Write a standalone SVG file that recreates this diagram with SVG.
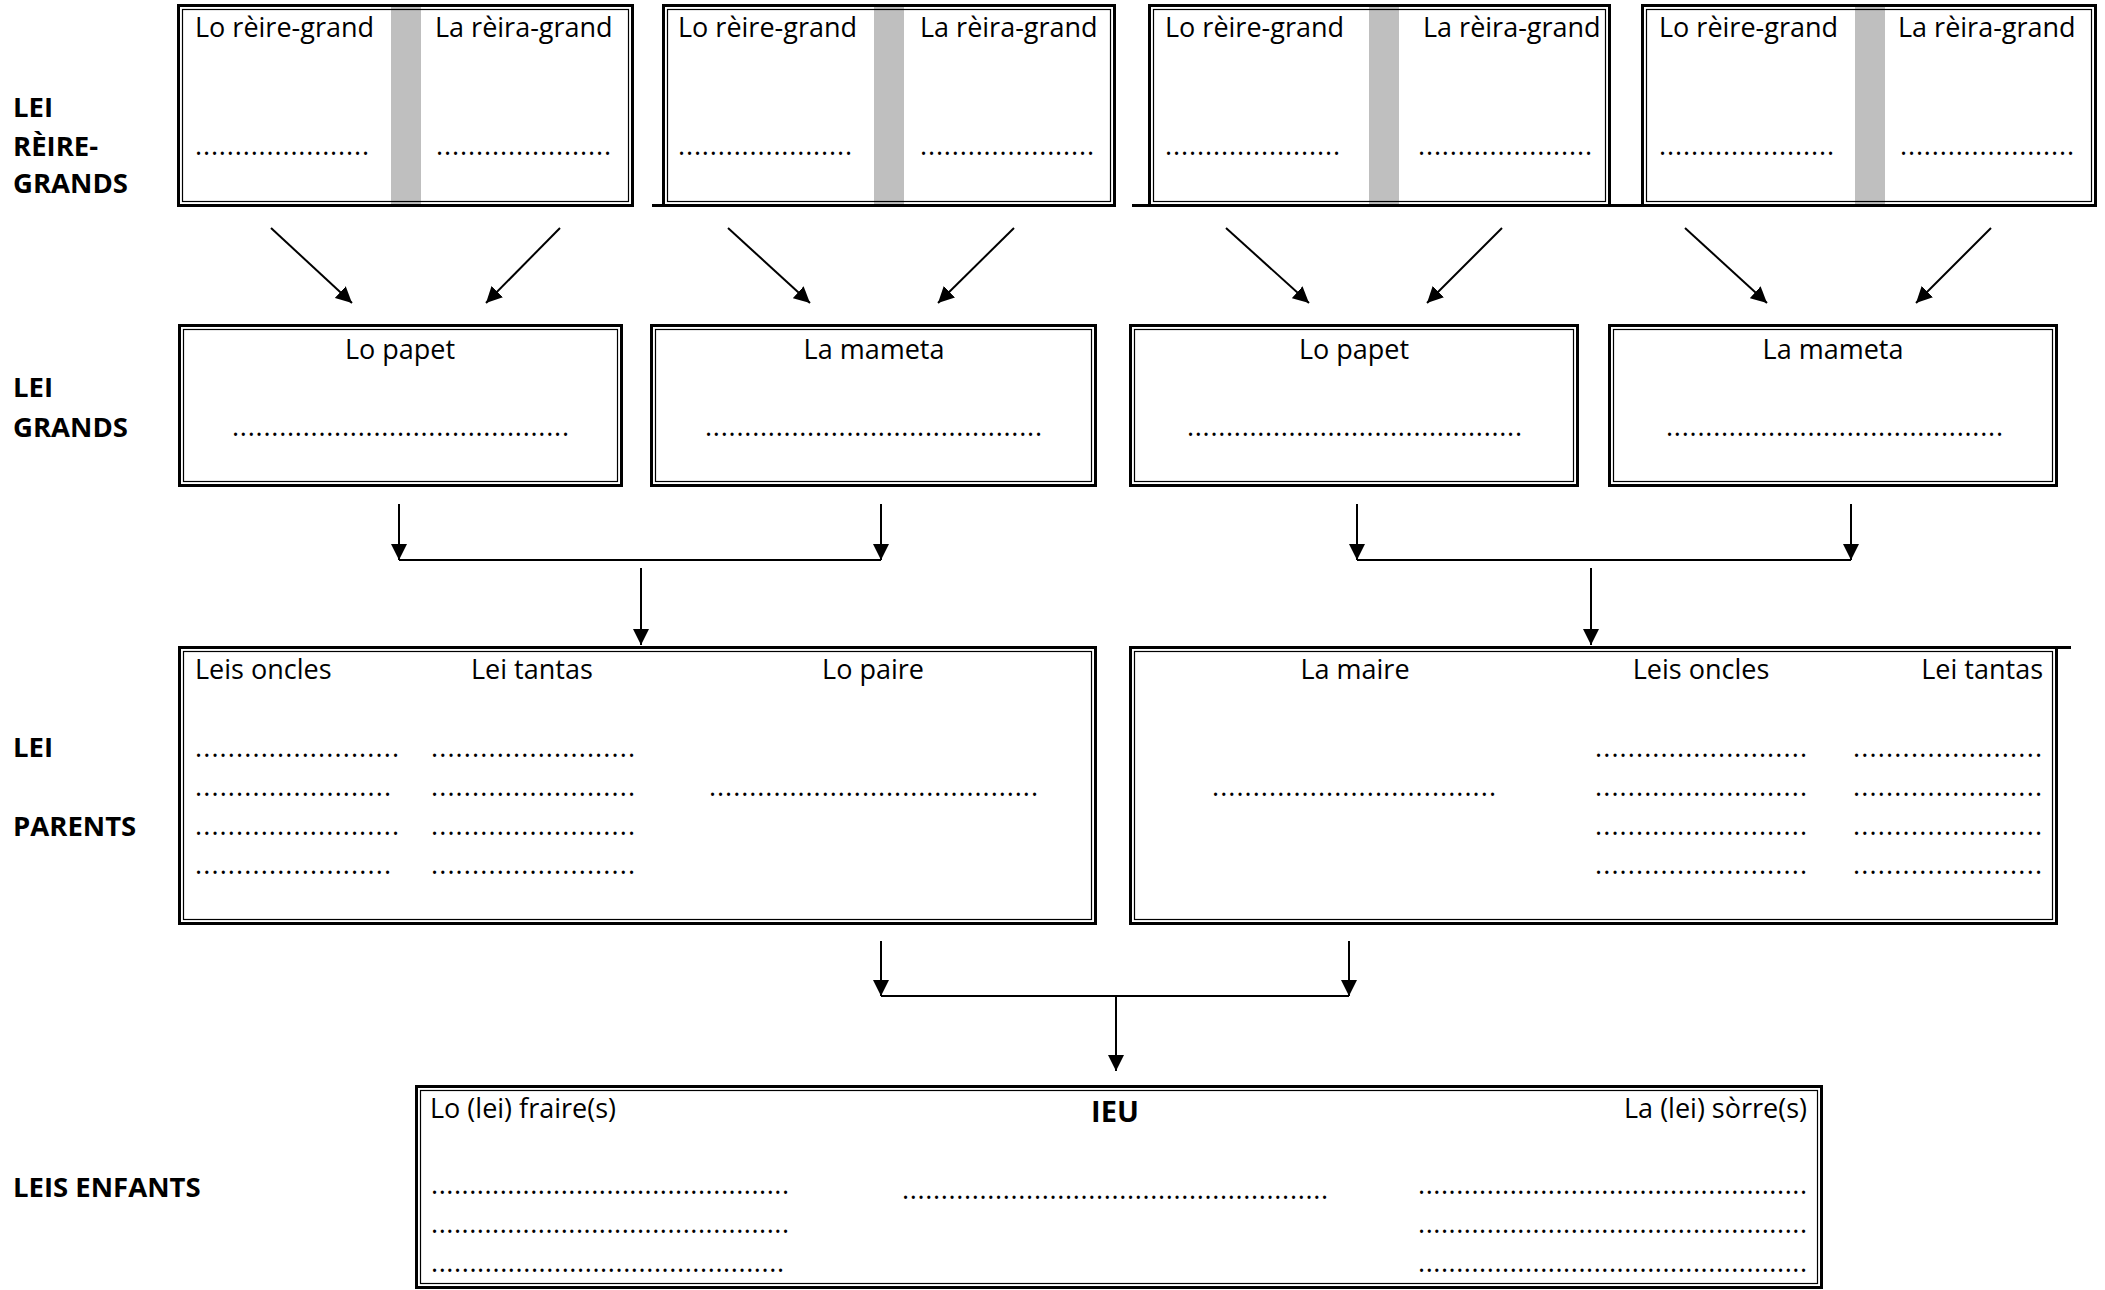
<svg xmlns="http://www.w3.org/2000/svg" width="2105" height="1290" viewBox="0 0 2105 1290">
<defs>
<marker id="ah" viewBox="0 0 16 16" refX="16" refY="8" markerWidth="16" markerHeight="16" markerUnits="userSpaceOnUse" orient="auto">
<path d="M0,0 L16,8 L0,16 z" fill="#000"/>
</marker>
</defs>
<style>
.t{font-family:"Open Sans","Liberation Sans",sans-serif;font-size:27px;fill:#000}
.b{font-family:"Open Sans","Liberation Sans",sans-serif;font-size:27.5px;font-weight:bold;fill:#000}
.d{font-family:"Open Sans","Liberation Sans",sans-serif;font-size:27px;fill:#000}
.o{fill:none;stroke:#000;stroke-width:3}
.i{fill:none;stroke:#000;stroke-width:1.2}
.g{fill:#bfbfbf}
.c{fill:none;stroke:#000;stroke-width:2}
.x{stroke:#000;stroke-width:3}
</style>
<rect width="2105" height="1290" fill="#fff"/>

<g id="labels">
<text class="b" x="13" y="117">LEI</text>
<text class="b" x="13" y="156">RÈIRE-</text>
<text class="b" x="13" y="193">GRANDS</text>
<text class="b" x="13" y="397">LEI</text>
<text class="b" x="13" y="437">GRANDS</text>
<text class="b" x="13" y="757">LEI</text>
<text class="b" x="13" y="836">PARENTS</text>
<text class="b" x="13" y="1197">LEIS ENFANTS</text>
</g>

<g id="reire-1">
<rect class="g" x="391" y="6" width="30" height="199"/>
<rect class="o" x="178.5" y="5.5" width="454" height="200"/>
<rect class="i" x="182.5" y="9.5" width="446" height="192"/>
<text class="t" x="195" y="37">Lo rèire-grand</text>
<text class="t" x="435" y="37">La rèira-grand</text>
<text class="d" x="195" y="155" textLength="174" lengthAdjust="spacing">......................</text>
<text class="d" x="436" y="155" textLength="175" lengthAdjust="spacing">......................</text>
</g>

<g id="reire-2">
<rect class="g" x="874" y="6" width="30" height="199"/>
<line class="x" x1="652" y1="205.5" x2="663" y2="205.5"/>
<rect class="o" x="663.5" y="5.5" width="451" height="200"/>
<rect class="i" x="667.5" y="9.5" width="443" height="192"/>
<text class="t" x="678" y="37">Lo rèire-grand</text>
<text class="t" x="920" y="37">La rèira-grand</text>
<text class="d" x="678" y="155" textLength="174" lengthAdjust="spacing">......................</text>
<text class="d" x="920" y="155" textLength="174" lengthAdjust="spacing">......................</text>
</g>

<g id="reire-3">
<rect class="g" x="1369" y="6" width="30" height="199"/>
<line class="x" x1="1132" y1="205.5" x2="1149" y2="205.5"/>
<rect class="o" x="1149.5" y="5.5" width="460" height="200"/>
<rect class="i" x="1153.5" y="9.5" width="452" height="192"/>
<text class="t" x="1165" y="37">Lo rèire-grand</text>
<text class="t" x="1423" y="37">La rèira-grand</text>
<text class="d" x="1165" y="155" textLength="175" lengthAdjust="spacing">......................</text>
<text class="d" x="1418" y="155" textLength="174" lengthAdjust="spacing">......................</text>
</g>

<g id="reire-4">
<rect class="g" x="1855" y="6" width="30" height="199"/>
<line class="x" x1="1611" y1="205.5" x2="1642" y2="205.5"/>
<rect class="o" x="1642.5" y="5.5" width="453" height="200"/>
<rect class="i" x="1646.5" y="9.5" width="445" height="192"/>
<text class="t" x="1659" y="37">Lo rèire-grand</text>
<text class="t" x="1898" y="37">La rèira-grand</text>
<text class="d" x="1659" y="155" textLength="175" lengthAdjust="spacing">......................</text>
<text class="d" x="1900" y="155" textLength="174" lengthAdjust="spacing">......................</text>
</g>

<g id="grand-1">
<rect class="o" x="179.5" y="325.5" width="442" height="160"/>
<rect class="i" x="183.5" y="329.5" width="434" height="152"/>
<text class="t" x="400" y="359" text-anchor="middle">Lo papet</text>
<text class="d" x="232" y="436" textLength="337" lengthAdjust="spacing">...........................................</text>
</g>
<g id="grand-2">
<rect class="o" x="651.5" y="325.5" width="444" height="160"/>
<rect class="i" x="655.5" y="329.5" width="436" height="152"/>
<text class="t" x="874" y="359" text-anchor="middle">La mameta</text>
<text class="d" x="705" y="436" textLength="337" lengthAdjust="spacing">...........................................</text>
</g>
<g id="grand-3">
<rect class="o" x="1130.5" y="325.5" width="447" height="160"/>
<rect class="i" x="1134.5" y="329.5" width="439" height="152"/>
<text class="t" x="1354" y="359" text-anchor="middle">Lo papet</text>
<text class="d" x="1187" y="436" textLength="335" lengthAdjust="spacing">...........................................</text>
</g>
<g id="grand-4">
<rect class="o" x="1609.5" y="325.5" width="447" height="160"/>
<rect class="i" x="1613.5" y="329.5" width="439" height="152"/>
<text class="t" x="1833" y="359" text-anchor="middle">La mameta</text>
<text class="d" x="1666" y="436" textLength="337" lengthAdjust="spacing">...........................................</text>
</g>

<g id="parents-paire">
<rect class="o" x="179.5" y="647.5" width="916" height="276"/>
<rect class="i" x="183.5" y="651.5" width="908" height="268"/>
<text class="t" x="195" y="679">Leis oncles</text>
<text class="t" x="471" y="679">Lei tantas</text>
<text class="t" x="873" y="679" text-anchor="middle">Lo paire</text>
<text class="d" x="195" y="757" textLength="204" lengthAdjust="spacing">.........................</text>
<text class="d" x="195" y="796" textLength="196" lengthAdjust="spacing">........................</text>
<text class="d" x="195" y="835" textLength="204" lengthAdjust="spacing">.........................</text>
<text class="d" x="195" y="874" textLength="196" lengthAdjust="spacing">........................</text>
<text class="d" x="431" y="757" textLength="204" lengthAdjust="spacing">.........................</text>
<text class="d" x="431" y="796" textLength="204" lengthAdjust="spacing">.........................</text>
<text class="d" x="431" y="835" textLength="204" lengthAdjust="spacing">.........................</text>
<text class="d" x="431" y="874" textLength="204" lengthAdjust="spacing">.........................</text>
<text class="d" x="709" y="796" textLength="329" lengthAdjust="spacing">.........................................</text>
</g>

<g id="parents-maire">
<line class="x" x1="2056" y1="647.5" x2="2071" y2="647.5"/>
<rect class="o" x="1130.5" y="647.5" width="926" height="276"/>
<rect class="i" x="1134.5" y="651.5" width="918" height="268"/>
<text class="t" x="1355" y="679" text-anchor="middle">La maire</text>
<text class="t" x="1701" y="679" text-anchor="middle">Leis oncles</text>
<text class="t" x="2043" y="679" text-anchor="end">Lei tantas</text>
<text class="d" x="1212" y="796" textLength="284" lengthAdjust="spacing">...................................</text>
<text class="d" x="1595" y="757" textLength="212" lengthAdjust="spacing">..........................</text>
<text class="d" x="1595" y="796" textLength="212" lengthAdjust="spacing">..........................</text>
<text class="d" x="1595" y="835" textLength="212" lengthAdjust="spacing">..........................</text>
<text class="d" x="1595" y="874" textLength="212" lengthAdjust="spacing">..........................</text>
<text class="d" x="1853" y="757" textLength="189" lengthAdjust="spacing">.......................</text>
<text class="d" x="1853" y="796" textLength="189" lengthAdjust="spacing">.......................</text>
<text class="d" x="1853" y="835" textLength="189" lengthAdjust="spacing">.......................</text>
<text class="d" x="1853" y="874" textLength="189" lengthAdjust="spacing">.......................</text>
</g>

<g id="enfants">
<rect class="o" x="416.5" y="1086.5" width="1405" height="201"/>
<rect class="i" x="420.5" y="1090.5" width="1397" height="193"/>
<text class="t" x="430" y="1118">Lo (lei) fraire(s)</text>
<text class="b" x="1115" y="1122" text-anchor="middle" style="font-size:29px">IEU</text>
<text class="t" x="1807" y="1118" text-anchor="end">La (lei) sòrre(s)</text>
<text class="d" x="431" y="1194" textLength="358" lengthAdjust="spacing">...............................................</text>
<text class="d" x="431" y="1233" textLength="358" lengthAdjust="spacing">...............................................</text>
<text class="d" x="431" y="1272" textLength="353" lengthAdjust="spacing">..............................................</text>
<text class="d" x="902" y="1199" textLength="426" lengthAdjust="spacing">.......................................................</text>
<text class="d" x="1418" y="1194" textLength="389" lengthAdjust="spacing">...................................................</text>
<text class="d" x="1418" y="1233" textLength="389" lengthAdjust="spacing">...................................................</text>
<text class="d" x="1418" y="1272" textLength="389" lengthAdjust="spacing">...................................................</text>
</g>

<g id="connectors">
<line class="c" x1="271" y1="228" x2="352" y2="303" marker-end="url(#ah)"/>
<line class="c" x1="560" y1="228" x2="486" y2="303" marker-end="url(#ah)"/>
<line class="c" x1="728" y1="228" x2="810" y2="303" marker-end="url(#ah)"/>
<line class="c" x1="1014" y1="228" x2="938" y2="303" marker-end="url(#ah)"/>
<line class="c" x1="1226" y1="228" x2="1309" y2="303" marker-end="url(#ah)"/>
<line class="c" x1="1502" y1="228" x2="1427" y2="303" marker-end="url(#ah)"/>
<line class="c" x1="1685" y1="228" x2="1767" y2="303" marker-end="url(#ah)"/>
<line class="c" x1="1991" y1="228" x2="1916" y2="303" marker-end="url(#ah)"/>

<line class="c" x1="399" y1="504" x2="399" y2="560" marker-end="url(#ah)"/>
<line class="c" x1="881" y1="504" x2="881" y2="560" marker-end="url(#ah)"/>
<line class="c" x1="399" y1="560" x2="881" y2="560"/>
<line class="c" x1="641" y1="568" x2="641" y2="645" marker-end="url(#ah)"/>

<line class="c" x1="1357" y1="504" x2="1357" y2="560" marker-end="url(#ah)"/>
<line class="c" x1="1851" y1="504" x2="1851" y2="560" marker-end="url(#ah)"/>
<line class="c" x1="1357" y1="560" x2="1851" y2="560"/>
<line class="c" x1="1591" y1="568" x2="1591" y2="645" marker-end="url(#ah)"/>

<line class="c" x1="881" y1="941" x2="881" y2="996" marker-end="url(#ah)"/>
<line class="c" x1="1349" y1="941" x2="1349" y2="996" marker-end="url(#ah)"/>
<line class="c" x1="881" y1="996" x2="1349" y2="996"/>
<line class="c" x1="1116" y1="996" x2="1116" y2="1071" marker-end="url(#ah)"/>
</g>
</svg>
